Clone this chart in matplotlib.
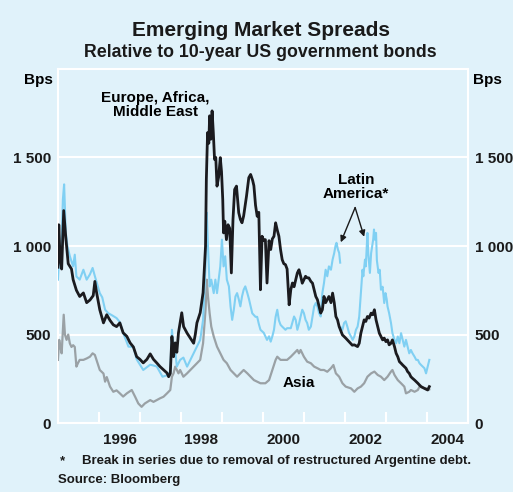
import numpy as np
import matplotlib
matplotlib.use('Agg')
import matplotlib.pyplot as plt
from matplotlib.ticker import FuncFormatter

plt.rcParams['font.family'] = ['Liberation Sans', 'DejaVu Sans']
plt.rcParams['font.weight'] = 'bold'

# Europe, Africa, Middle East spread (bps)
emea_t = [1995.00, 1995.02, 1995.05, 1995.09, 1995.14, 1995.19, 1995.25, 1995.33, 1995.37, 1995.45,
          1995.53, 1995.62, 1995.70, 1995.78, 1995.86, 1995.90, 1995.94, 1996.02, 1996.11, 1996.19,
          1996.27, 1996.35, 1996.43, 1996.51, 1996.59, 1996.68, 1996.76, 1996.84, 1996.92, 1997.00,
          1997.08, 1997.17, 1997.25, 1997.33, 1997.41, 1997.49, 1997.58, 1997.66, 1997.70, 1997.74,
          1997.78, 1997.82, 1997.86, 1997.90, 1997.94, 1998.02, 1998.065, 1998.15, 1998.23, 1998.31,
          1998.35, 1998.39, 1998.47, 1998.54, 1998.60, 1998.62, 1998.65, 1998.68, 1998.70, 1998.73,
          1998.76, 1998.79, 1998.82, 1998.85, 1998.88, 1998.92, 1998.96, 1998.99, 1999.02, 1999.04,
          1999.07, 1999.11, 1999.15, 1999.19, 1999.23, 1999.27, 1999.31, 1999.355, 1999.41, 1999.45,
          1999.49, 1999.53, 1999.60, 1999.656, 1999.70, 1999.75, 1999.78, 1999.82, 1999.86, 1999.90,
          1999.94, 1999.98, 2000.02, 2000.06, 2000.10, 2000.15, 2000.19, 2000.23, 2000.27, 2000.31,
          2000.35, 2000.39, 2000.43, 2000.47, 2000.51, 2000.55, 2000.59, 2000.64, 2000.68, 2000.72,
          2000.76, 2000.80, 2000.84, 2000.88, 2000.92, 2000.96, 2001.00, 2001.04, 2001.08, 2001.12,
          2001.17, 2001.21, 2001.25, 2001.29, 2001.33, 2001.37, 2001.41, 2001.45, 2001.49, 2001.53,
          2001.57, 2001.61, 2001.66, 2001.70, 2001.74, 2001.78, 2001.82, 2001.86, 2001.94, 2002.02,
          2002.10, 2002.18, 2002.23, 2002.31, 2002.35, 2002.39, 2002.43, 2002.47, 2002.51, 2002.55,
          2002.59, 2002.64, 2002.68, 2002.72, 2002.76, 2002.80, 2002.84, 2002.88, 2002.92, 2002.96,
          2003.00, 2003.04, 2003.08, 2003.125, 2003.16, 2003.21, 2003.25, 2003.29, 2003.33, 2003.37,
          2003.41, 2003.45, 2003.49, 2003.53, 2003.57, 2003.61, 2003.65, 2003.70, 2003.74, 2003.78,
          2003.82, 2003.86, 2003.94, 2004.02, 2004.06]
emea_v = [880, 1120, 940, 870, 1200, 1050, 900, 870, 810, 750,
          715, 735, 680, 695, 720, 800, 740, 640, 566, 612,
          580, 555, 545, 566, 510, 490, 453, 430, 375, 360,
          340, 360, 391, 360, 340, 319, 300, 283, 262, 280,
          489, 375, 453, 400, 510, 623, 545, 508, 480, 451,
          500, 566, 623, 736, 999, 1376, 1640, 1580, 1735, 1603,
          1763, 1640, 1489, 1500, 1338, 1390, 1499, 1420, 1263, 1074,
          1140, 1036, 1120, 1100, 848, 1150, 1319, 1338, 1188, 1150,
          1131, 1170, 1282, 1386, 1404, 1370, 1340, 1230, 1168, 1190,
          753, 1055, 1030, 1036, 791, 1030, 980, 1040, 1055, 1131,
          1090, 1055, 980, 923, 900, 895, 870, 668, 753, 791,
          770, 810, 848, 866, 830, 790, 810, 829, 820, 820,
          800, 790, 753, 715, 697, 660, 621, 640, 715, 680,
          697, 715, 680, 734, 680, 602, 583, 545, 498, 480,
          460, 440, 442, 432, 451, 508, 545, 583, 574, 602,
          593, 621, 612, 640, 583, 545, 508, 489, 470, 480,
          460, 470, 442, 451, 470, 432, 394, 375, 347, 338,
          328, 319, 310, 291, 281, 262, 253, 243, 234, 225,
          215, 206, 196, 187, 206]

# Latin America spread (bps); nan marks the break in the series
latam_t = [1995.00, 1995.04, 1995.08, 1995.12, 1995.15, 1995.19, 1995.23, 1995.29, 1995.37, 1995.41,
           1995.45, 1995.53, 1995.62, 1995.70, 1995.78, 1995.845, 1995.90, 1996.02, 1996.08, 1996.15,
           1996.23, 1996.31, 1996.43, 1996.51, 1996.59, 1996.72, 1996.84, 1996.92, 1997.08, 1997.25,
           1997.41, 1997.55, 1997.66, 1997.74, 1997.78, 1997.82, 1997.86, 1997.90, 1997.98, 1998.06,
           1998.15, 1998.23, 1998.31, 1998.39, 1998.47, 1998.54, 1998.60, 1998.63, 1998.66, 1998.70,
           1998.74, 1998.80, 1998.84, 1998.88, 1998.96, 1999.00, 1999.04, 1999.08, 1999.12, 1999.17,
           1999.21, 1999.25, 1999.29, 1999.33, 1999.37, 1999.41, 1999.45, 1999.49, 1999.53, 1999.57,
           1999.62, 1999.66, 1999.70, 1999.74, 1999.78, 1999.82, 1999.86, 1999.90, 1999.94, 2000.02,
           2000.10, 2000.15, 2000.19, 2000.23, 2000.27, 2000.31, 2000.35, 2000.39, 2000.43, 2000.47,
           2000.51, 2000.55, 2000.59, 2000.68, 2000.76, 2000.80, 2000.84, 2000.88, 2000.92, 2000.96,
           2001.00, 2001.04, 2001.08, 2001.12, 2001.17, 2001.21, 2001.25, 2001.29, 2001.33, 2001.37,
           2001.41, 2001.45, 2001.49, 2001.53, 2001.57, 2001.61, 2001.66, 2001.70, 2001.74, 2001.77,
           2001.795, 2001.83, 2001.86, 2001.885, 2001.89, 2001.90, 2001.94, 2001.98, 2002.02, 2002.06,
           2002.10, 2002.15, 2002.19, 2002.23, 2002.27, 2002.31, 2002.35, 2002.39, 2002.43, 2002.45,
           2002.49, 2002.51, 2002.55, 2002.57, 2002.61, 2002.64, 2002.69, 2002.71, 2002.73, 2002.76,
           2002.78, 2002.82, 2002.85, 2002.88, 2002.92, 2002.96, 2002.99, 2003.02, 2003.04, 2003.08,
           2003.125, 2003.16, 2003.21, 2003.25, 2003.29, 2003.33, 2003.37, 2003.41, 2003.45, 2003.49,
           2003.53, 2003.57, 2003.61, 2003.65, 2003.70, 2003.74, 2003.78, 2003.82, 2003.86, 2003.94,
           2003.98, 2004.02, 2004.06]
latam_v = [810, 1000, 950, 1263, 1348, 1076, 1000, 942, 885, 951,
           828, 810, 866, 810, 840, 876, 830, 734, 710, 640,
           620, 610, 593, 570, 510, 432, 430, 360, 300, 330,
           320, 262, 270, 290, 527, 432, 410, 319, 357, 370,
           319, 357, 394, 432, 470, 583, 885, 1188, 999, 772,
           810, 734, 810, 734, 885, 1036, 885, 942, 810, 772,
           659, 583, 640, 715, 734, 700, 659, 715, 753, 772,
           734, 700, 659, 620, 610, 600, 600, 560, 527, 510,
           470, 490, 460, 490, 527, 600, 640, 580, 555, 545,
           536, 527, 536, 536, 602, 583, 527, 560, 602, 640,
           621, 583, 565, 527, 545, 602, 659, 678, 659, 621,
           602, 734, 791, 866, 829, 885, 866, 923, 961, 1000,
           1018, 980, 961, 906, np.nan, 540, 527, 565, 575, 545,
           510, 489, 470, 489, 527, 545, 602, 734, 866, 829,
           923, 885, 1074, 960, 848, 960, 1036, 1093, 1036, 1074,
           920, 848, 866, 753, 770, 678, 734, 700, 659, 620,
           565, 508, 470, 451, 489, 451, 508, 470, 432, 470,
           432, 394, 413, 394, 375, 357, 357, 338, 328, 310,
           281, 320, 357]

# Asia spread (bps)
asia_t = [1995.00, 1995.03, 1995.06, 1995.09, 1995.14, 1995.17, 1995.21, 1995.25, 1995.29, 1995.33,
          1995.37, 1995.41, 1995.45, 1995.49, 1995.53, 1995.62, 1995.70, 1995.78, 1995.845, 1995.90,
          1995.94, 1996.02, 1996.11, 1996.15, 1996.19, 1996.27, 1996.35, 1996.43, 1996.51, 1996.59,
          1996.68, 1996.80, 1996.88, 1996.96, 1997.04, 1997.12, 1997.25, 1997.33, 1997.41, 1997.49,
          1997.575, 1997.66, 1997.74, 1997.78, 1997.82, 1997.86, 1997.90, 1997.94, 1997.98, 1998.02,
          1998.06, 1998.15, 1998.23, 1998.31, 1998.39, 1998.47, 1998.54, 1998.60, 1998.63, 1998.66,
          1998.70, 1998.74, 1998.80, 1998.88, 1998.96, 1999.04, 1999.12, 1999.21, 1999.29, 1999.37,
          1999.45, 1999.53, 1999.62, 1999.70, 1999.78, 1999.86, 1999.94, 2000.06, 2000.15, 2000.23,
          2000.31, 2000.35, 2000.43, 2000.51, 2000.59, 2000.68, 2000.76, 2000.84, 2000.88, 2000.92,
          2001.00, 2001.08, 2001.17, 2001.25, 2001.33, 2001.41, 2001.49, 2001.57, 2001.66, 2001.72,
          2001.78, 2001.86, 2001.94, 2002.02, 2002.10, 2002.15, 2002.23, 2002.31, 2002.39, 2002.47,
          2002.55, 2002.64, 2002.72, 2002.80, 2002.88, 2002.96, 2003.04, 2003.125, 2003.16, 2003.21,
          2003.29, 2003.37, 2003.45, 2003.49, 2003.57, 2003.61, 2003.70, 2003.78, 2003.82, 2003.90,
          2004.00, 2004.06]
asia_v = [357, 470, 430, 394, 612, 500, 470, 500, 450, 430,
          440, 430, 319, 340, 357, 357, 365, 375, 394, 385,
          357, 300, 280, 234, 260, 206, 177, 185, 168, 150,
          168, 187, 150, 111, 92, 111, 130, 120, 130, 140,
          149, 168, 187, 262, 281, 319, 300, 281, 300, 281,
          262, 281, 300, 319, 338, 357, 451, 640, 810, 715,
          621, 545, 489, 432, 394, 357, 338, 300, 281, 262,
          281, 300, 281, 262, 243, 234, 225, 225, 243, 300,
          357, 375, 357, 357, 357, 375, 394, 413, 394, 413,
          375, 347, 338, 319, 310, 300, 300, 290, 310, 328,
          281, 262, 225, 206, 200, 196, 177, 196, 206, 225,
          262, 281, 291, 272, 262, 243, 262, 291, 300, 272,
          243, 225, 206, 168, 177, 187, 177, 187, 206, 200,
          195, 190]

yticks = [0, 500, 1000, 1500]
year_labels = ['1996', '1998', '2000', '2002', '2004']
year_pos = [1996.5, 1998.5, 2000.5, 2002.5, 2004.5]

bg = '#e0f2fa'
c_emea = '#1b1b1f'
c_latam = '#80d0f3'
c_asia = '#9aa1a5'

fig = plt.figure(figsize=(5.13, 4.92), dpi=100, facecolor=bg)
ax = fig.add_axes([0.113, 0.140, 0.799, 0.720])
ax.set_facecolor(bg)

ax.plot(asia_t, asia_v, color=c_asia, lw=1.6, zorder=3)
ax.plot(latam_t, latam_v, color=c_latam, lw=1.5, zorder=4)
ax.plot(emea_t, emea_v, color=c_emea, lw=2.0, zorder=5)

ax.set_xlim(1995, 2005)
ax.set_ylim(0, 2000)

for s in ax.spines.values():
    s.set_color('white')
    s.set_linewidth(1.5)

ax.set_yticks(yticks)
ax.yaxis.set_major_formatter(FuncFormatter(lambda v, p: f'{int(v):,}'.replace(',', ' ')))
ax.tick_params(axis='y', length=0, labelsize=11, pad=5, labelright=True, colors='#1a1a1a')
ax.grid(axis='y', color='white', lw=1.5, zorder=1)

ax.set_xticks(year_pos)
ax.set_xticklabels(year_labels)
ax.set_xticks(np.arange(1995, 2006), minor=True)
ax.tick_params(axis='x', which='major', length=0, labelsize=11, pad=7, colors='#1a1a1a')
ax.tick_params(axis='x', which='minor', direction='in', length=8, width=1.5, color='white')

ax.text(-0.012, 0.969, 'Bps', transform=ax.transAxes, ha='right', va='center', fontsize=11)
ax.text(1.012, 0.969, 'Bps', transform=ax.transAxes, ha='left', va='center', fontsize=11)

ax.text(1997.38, 1798, 'Europe, Africa,\nMiddle East', ha='center', va='center',
        fontsize=11, linespacing=1.0, zorder=6)
ax.text(2002.27, 1333, 'Latin\nAmerica*', ha='center', va='center',
        fontsize=11, linespacing=1.0, zorder=6)
ax.text(2000.88, 225, 'Asia', ha='center', va='center', fontsize=11, zorder=6)

for tip in [(2001.90, 1021), (2002.47, 1052)]:
    ax.annotate('', xy=tip, xytext=(2002.25, 1217),
                arrowprops=dict(arrowstyle='-|>', color='#1a1a1a', lw=1.0,
                                mutation_scale=9, shrinkA=0, shrinkB=0), zorder=6)

fig.text(0.508, 0.937, 'Emerging Market Spreads', ha='center', va='center',
         fontsize=15, color='#1a1a1a')
fig.text(0.508, 0.893, 'Relative to 10-year US government bonds', ha='center', va='center',
         fontsize=12.8, color='#1a1a1a')

fig.text(0.117, 0.062, '*', ha='left', va='center', fontsize=9.5, color='#1a1a1a')
fig.text(0.159, 0.062, 'Break in series due to removal of restructured Argentine debt.',
         ha='left', va='center', fontsize=9.5, color='#1a1a1a')
fig.text(0.113, 0.024, 'Source: Bloomberg', ha='left', va='center', fontsize=9.5, color='#1a1a1a')

fig.savefig('out.png', dpi=100, facecolor=bg)
